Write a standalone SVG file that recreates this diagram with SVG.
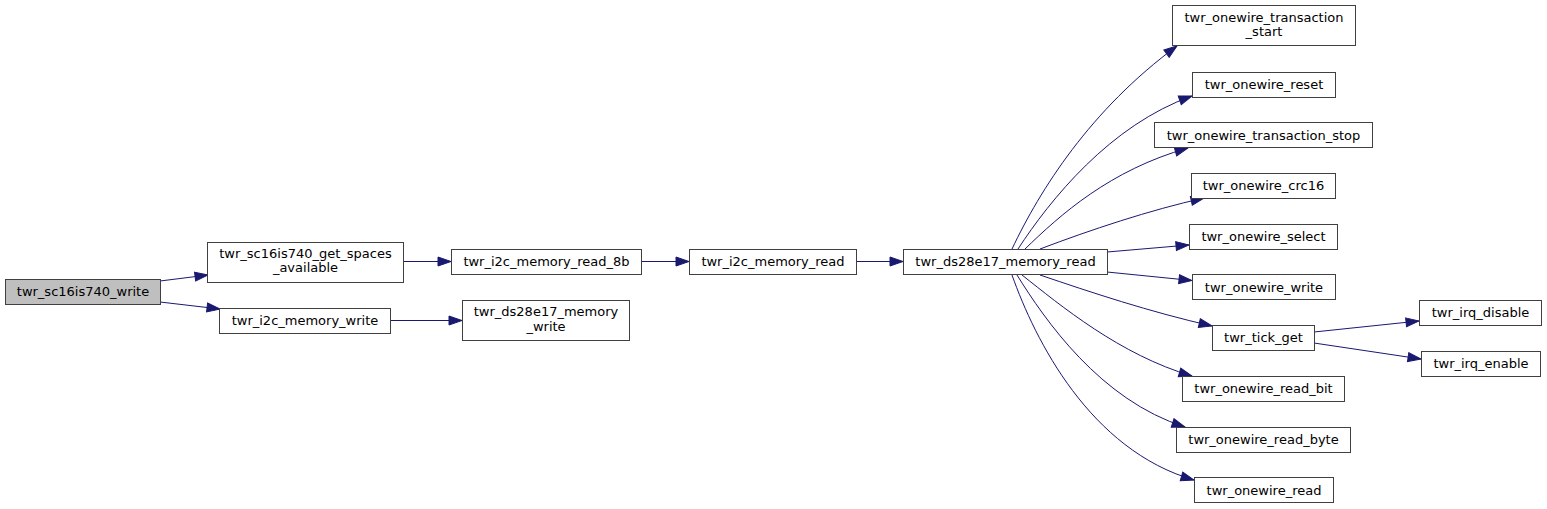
<svg xmlns="http://www.w3.org/2000/svg" width="1547" height="509" viewBox="0 0 1547 509">
<style>
.n rect{fill:#ffffff;stroke:#404040;stroke-width:1}
.n.root rect{fill:#bfbfbf}
.n text{font-family:"DejaVu Sans",sans-serif;font-size:13px;fill:#000000;text-anchor:middle}
.e path{fill:none;stroke:#191970;stroke-width:1}
</style>
<defs>
<marker id="ah" viewBox="-1 -1 15 11" refX="13" refY="4.5" markerWidth="15" markerHeight="11" markerUnits="userSpaceOnUse" orient="auto">
<path d="M0,0 L13,4.5 L0,9 z" fill="#191970" stroke="#191970" stroke-width="1"/>
</marker>
</defs>
<rect width="1547" height="509" fill="#ffffff"/>
<g id="edges" class="e">
<path d="M160,281 L208,275" marker-end="url(#ah)"/>
<path d="M160,302 L220,309" marker-end="url(#ah)"/>
<path d="M403,261.5 L451,261.5" marker-end="url(#ah)"/>
<path d="M390,320.5 L462,320.5" marker-end="url(#ah)"/>
<path d="M641,261.5 L689,261.5" marker-end="url(#ah)"/>
<path d="M856,261.5 L903,261.5" marker-end="url(#ah)"/>
<path d="M1012,249 C1040,190 1090,110 1177,46" marker-end="url(#ah)"/>
<path d="M1018,249 C1050,200 1110,125 1192,96" marker-end="url(#ah)"/>
<path d="M1025,249 C1060,215 1110,170 1188,148" marker-end="url(#ah)"/>
<path d="M1040,249 C1090,230 1150,210 1204,198" marker-end="url(#ah)"/>
<path d="M1107,252 L1189,245" marker-end="url(#ah)"/>
<path d="M1107,272 L1192,280.5" marker-end="url(#ah)"/>
<path d="M1040,275 C1090,292 1150,312 1212,326" marker-end="url(#ah)"/>
<path d="M1022,275 C1060,305 1120,355 1192,376" marker-end="url(#ah)"/>
<path d="M1017,275 C1045,320 1100,400 1185,427" marker-end="url(#ah)"/>
<path d="M1012,275 C1035,340 1090,450 1194,480" marker-end="url(#ah)"/>
<path d="M1314,332 L1419,321" marker-end="url(#ah)"/>
<path d="M1314,343 L1421,359" marker-end="url(#ah)"/>
</g>
<g id="n0" class="n root"><rect x="5.5" y="279.5" width="155" height="25"/><text x="83" y="296">twr_sc16is740_write</text></g>
<g id="n1" class="n"><rect x="207.5" y="242.5" width="196" height="40"/><text x="305.5" y="257.5">twr_sc16is740_get_spaces</text><text x="305.5" y="272">_available</text></g>
<g id="n2" class="n"><rect x="219.5" y="308.5" width="171" height="25"/><text x="305" y="325">twr_i2c_memory_write</text></g>
<g id="n3" class="n"><rect x="451.5" y="249.5" width="190" height="25"/><text x="546.5" y="266">twr_i2c_memory_read_8b</text></g>
<g id="n4" class="n"><rect x="689.5" y="249.5" width="167" height="25"/><text x="773" y="266">twr_i2c_memory_read</text></g>
<g id="n5" class="n"><rect x="462.5" y="300.5" width="167" height="40"/><text x="546" y="316">twr_ds28e17_memory</text><text x="546" y="330.5">_write</text></g>
<g id="n6" class="n"><rect x="903.5" y="249.5" width="204" height="25"/><text x="1005.5" y="266">twr_ds28e17_memory_read</text></g>
<g id="n7" class="n"><rect x="1172.5" y="5.5" width="183" height="40"/><text x="1264" y="21.5">twr_onewire_transaction</text><text x="1264" y="36">_start</text></g>
<g id="n8" class="n"><rect x="1192.5" y="72.5" width="143" height="25"/><text x="1264" y="89">twr_onewire_reset</text></g>
<g id="n9" class="n"><rect x="1154.5" y="122.5" width="218" height="25"/><text x="1263.5" y="139.5">twr_onewire_transaction_stop</text></g>
<g id="n10" class="n"><rect x="1191.5" y="173.5" width="144" height="25"/><text x="1263.5" y="190">twr_onewire_crc16</text></g>
<g id="n11" class="n"><rect x="1189.5" y="224.5" width="148" height="25"/><text x="1263.5" y="241">twr_onewire_select</text></g>
<g id="n12" class="n"><rect x="1192.5" y="274.5" width="143" height="25"/><text x="1264" y="291.5">twr_onewire_write</text></g>
<g id="n13" class="n"><rect x="1212.5" y="325.5" width="102" height="25"/><text x="1263.5" y="342">twr_tick_get</text></g>
<g id="n14" class="n"><rect x="1182.5" y="376.5" width="162" height="25"/><text x="1263.5" y="393">twr_onewire_read_bit</text></g>
<g id="n15" class="n"><rect x="1176.5" y="427.5" width="174" height="25"/><text x="1263.5" y="444">twr_onewire_read_byte</text></g>
<g id="n16" class="n"><rect x="1194.5" y="477.5" width="139" height="25"/><text x="1264" y="494.5">twr_onewire_read</text></g>
<g id="n17" class="n"><rect x="1419.5" y="300.5" width="122" height="25"/><text x="1480.5" y="317">twr_irq_disable</text></g>
<g id="n18" class="n"><rect x="1421.5" y="351.5" width="119" height="25"/><text x="1481" y="368">twr_irq_enable</text></g>
</svg>
